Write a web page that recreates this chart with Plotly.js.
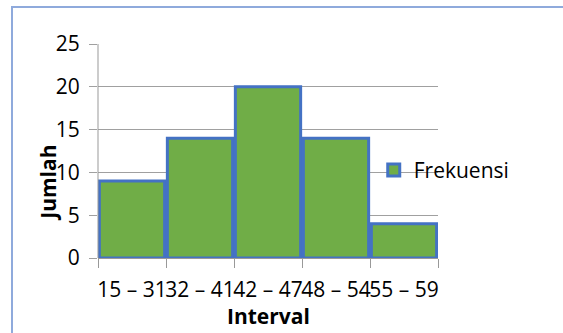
<!DOCTYPE html>
<html><head><meta charset="utf-8">
<script src="https://cdn.plot.ly/plotly-3.0.1.min.js"></script>
<style>
html,body{margin:0;padding:0;background:#fff;}
#frame{position:absolute;left:11px;top:6px;width:560px;height:340px;border-left:2px solid #8FAADC;border-top:2px solid #8FAADC;}
#chart{position:absolute;left:0;top:0;width:563px;height:333px;}
</style></head>
<body>
<div id="frame"></div>
<div id="chart"></div>
<script>
const categories = ["15 – 31", "32 – 41", "42 – 47", "48 – 54", "55 – 59"];
const frekuensi = [9, 14, 20, 14, 4];
const yTicks = [0, 5, 10, 15, 20, 25];

const font = "'Open Sans', sans-serif";
const trace = {
  type: "bar",
  x: categories,
  y: frekuensi,
  name: "Frekuensi",
  marker: {color: "#70AD47", line: {color: "#4472C4", width: 3}},
  showlegend: true,
  hoverinfo: "skip"
};
const layout = {
  width: 563, height: 333,
  margin: {l: 98, r: 125, t: 44, b: 75},
  paper_bgcolor: "rgba(0,0,0,0)",
  plot_bgcolor: "rgba(0,0,0,0)",
  bargap: 0.04,
  font: {family: font, size: 21, color: "#000"},
  xaxis: {
    type: "category",
    tickson: "boundaries",
    tickangle: 0,
    ticks: "outside", ticklen: 9, tickcolor: "#999", tickwidth: 1,
    showline: true, linecolor: "#999", linewidth: 1,
    showgrid: false,
    ticklabelstandoff: 13,
    tickfont: {family: font, size: 21},
    title: {text: ""}
  },
  yaxis: {
    range: [0, 25], tickvals: yTicks,
    showgrid: true, gridcolor: "#A0A0A0", gridwidth: 1,
    showline: false, zeroline: false,
    ticks: "outside", ticklen: 8, tickcolor: "#A0A0A0", tickwidth: 1,
    ticklabelstandoff: 5,
    tickfont: {family: font, size: 21},
    title: {text: ""}
  },
  shapes: [{type: "line", xref: "paper", yref: "paper", x0: 0, x1: 0, y0: 0, y1: 1, line: {color: "#999", width: 1}}],
  legend: {x: 0.811, xanchor: "left", y: 0.41, yanchor: "middle", font: {family: font, size: 21}, bgcolor: "rgba(0,0,0,0)", itemwidth: 30},
  annotations: [
    {text: "<b>Interval</b>", xref: "paper", yref: "paper", x: 0.5, y: -0.27, xanchor: "center", yanchor: "middle", showarrow: false, font: {family: font, size: 21}},
    {text: "<b>Jumlah</b>", xref: "paper", yref: "paper", x: -0.148, y: 0.35, xanchor: "center", yanchor: "middle", textangle: -90, showarrow: false, font: {family: font, size: 21}}
  ]
};
Plotly.newPlot("chart", [trace], layout, {displayModeBar: false, staticPlot: true});
</script>
</body></html>
